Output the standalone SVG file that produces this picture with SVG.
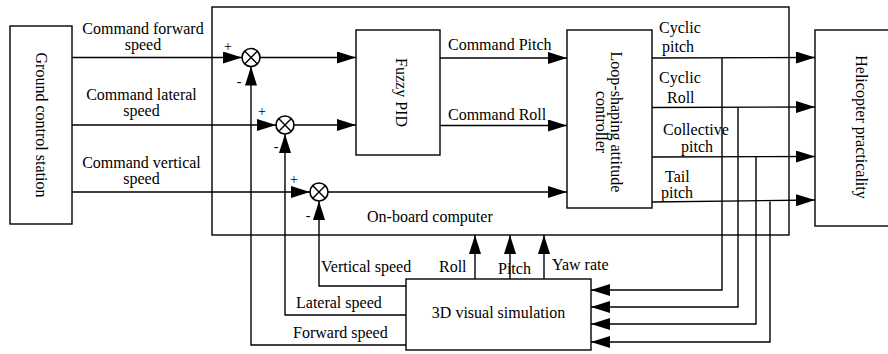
<svg xmlns="http://www.w3.org/2000/svg" width="888" height="354" viewBox="0 0 888 354" font-family="'Liberation Serif', 'DejaVu Serif', serif" font-size="16">
  <style>
    .box { fill: #fff; stroke: #000; stroke-width: 1.4; }
    .frame { fill: none; stroke: #000; stroke-width: 1.4; }
    .wire { fill: none; stroke: #000; stroke-width: 1.4; }
    .arrow { fill: none; stroke: #000; stroke-width: 1.4; marker-end: url(#head); }
    .sum { fill: #fff; stroke: #000; stroke-width: 1.6; }
    text { font-family: 'Liberation Serif', 'DejaVu Serif', serif; font-size: 16px; fill: #000; }
    .mid { text-anchor: middle; }
    .sign { font-size: 14px; text-anchor: middle; }
  </style>
  <defs>
    <marker id="head" viewBox="0 0 19 12" refX="19" refY="6" markerWidth="19" markerHeight="12" markerUnits="userSpaceOnUse" orient="auto">
      <path d="M0,0 L19,6 L0,12 Z" fill="#000"/>
    </marker>
  </defs>
  <rect width="888" height="354" fill="#fff"/>

  <!-- on-board computer enclosure -->
  <g id="onboard">
    <rect class="frame" x="212" y="7" width="577" height="228"/>
    <text x="367" y="222">On-board computer</text>
  </g>

  <g id="ground-station">
    <rect class="box" x="10" y="26" width="62" height="198"/>
    <text class="mid" transform="translate(36,125) rotate(90)">Ground control station</text>
  </g>

  <g id="fuzzy-pid">
    <rect class="box" x="356" y="30" width="84" height="125"/>
    <text class="mid" transform="translate(396,92.5) rotate(90)">Fuzzy PID</text>
  </g>

  <g id="loop-shaping">
    <rect class="box" x="567" y="30" width="85" height="178"/>
    <text class="mid" transform="translate(610.5,122) rotate(90)">Loop-shaping attitude</text>
    <text class="mid" transform="translate(596,122) rotate(90)">controller</text>
  </g>

  <g id="helicopter">
    <rect class="box" x="815" y="30" width="95" height="196"/>
    <text class="mid" transform="translate(855.5,127) rotate(90)">Helicopter practicality</text>
  </g>

  <g id="sim3d">
    <rect class="box" x="406" y="279" width="185" height="71"/>
    <text class="mid" x="498.5" y="318">3D visual simulation</text>
  </g>

  <!-- summing junctions -->
  <g id="sum-forward">
    <circle class="sum" cx="251" cy="57.5" r="9"/>
    <path class="wire" d="M244.6,51.1 L257.4,63.9 M257.4,51.1 L244.6,63.9"/>
    <text class="sign" x="228" y="51">+</text>
    <text class="sign" x="239" y="86">-</text>
  </g>
  <g id="sum-lateral">
    <circle class="sum" cx="285" cy="125" r="9"/>
    <path class="wire" d="M278.6,118.6 L291.4,131.4 M291.4,118.6 L278.6,131.4"/>
    <text class="sign" x="262" y="116">+</text>
    <text class="sign" x="276" y="151">-</text>
  </g>
  <g id="sum-vertical">
    <circle class="sum" cx="319" cy="192" r="9"/>
    <path class="wire" d="M312.6,185.6 L325.4,198.4 M325.4,185.6 L312.6,198.4"/>
    <text class="sign" x="294" y="184">+</text>
    <text class="sign" x="308" y="220">-</text>
  </g>

  <g id="connectors">
    <!-- commands from the ground station -->
    <line class="arrow" x1="72" y1="57.5" x2="242" y2="57.5"/>
    <line class="arrow" x1="72" y1="125" x2="276" y2="125"/>
    <line class="arrow" x1="72" y1="192" x2="310" y2="192"/>
    <!-- errors into the controllers -->
    <line class="arrow" x1="260" y1="57.5" x2="356" y2="57.5"/>
    <line class="arrow" x1="294" y1="125" x2="356" y2="125"/>
    <line class="arrow" x1="328" y1="192" x2="567" y2="192"/>
    <line class="arrow" x1="440" y1="58" x2="567" y2="58"/>
    <line class="arrow" x1="440" y1="125.5" x2="567" y2="125.5"/>
    <!-- actuator commands to the helicopter -->
    <line class="arrow" x1="652" y1="58" x2="815" y2="57.5"/>
    <line class="arrow" x1="652" y1="107.5" x2="815" y2="107"/>
    <line class="arrow" x1="652" y1="157" x2="815" y2="156.5"/>
    <line class="arrow" x1="652" y1="202" x2="815" y2="200"/>
    <!-- taps to the 3D simulation -->
    <polyline class="arrow" points="722,58 722,290 591,290"/>
    <polyline class="arrow" points="738,107.5 738,307 591,307"/>
    <polyline class="arrow" points="756,157 756,324 591,324"/>
    <polyline class="arrow" points="770,201.5 770,342 591,342"/>
    <!-- attitude back to the on-board computer -->
    <line class="arrow" x1="475" y1="279" x2="475" y2="235"/>
    <line class="arrow" x1="510" y1="279" x2="510" y2="235"/>
    <line class="arrow" x1="544" y1="279" x2="544" y2="235"/>
    <!-- speed feedback -->
    <polyline class="arrow" points="406,286 319,286 319,201"/>
    <polyline class="arrow" points="406,315 285,315 285,134"/>
    <polyline class="arrow" points="406,345 251,345 251,66.5"/>
  </g>

  <g id="labels">
    <text class="mid" x="143" y="34">Command forward</text>
    <text class="mid" x="143" y="50">speed</text>
    <text class="mid" x="141.5" y="100">Command lateral</text>
    <text class="mid" x="141.5" y="116">speed</text>
    <text class="mid" x="141.5" y="168">Command vertical</text>
    <text class="mid" x="141.5" y="184">speed</text>
    <text x="448" y="50">Command Pitch</text>
    <text x="448" y="120">Command Roll</text>
    <text x="659" y="33">Cyclic</text>
    <text x="662" y="51.5">pitch</text>
    <text x="659" y="83">Cyclic</text>
    <text x="667" y="102.5">Roll</text>
    <text x="663" y="135">Collective</text>
    <text x="681" y="151.5">pitch</text>
    <text x="665" y="181.5">Tail</text>
    <text x="661" y="198">pitch</text>
    <text x="321" y="272">Vertical speed</text>
    <text x="439" y="272">Roll</text>
    <text x="498" y="274">Pitch</text>
    <text x="552" y="270">Yaw rate</text>
    <text x="296" y="308">Lateral speed</text>
    <text x="293" y="338">Forward speed</text>
  </g>
</svg>
